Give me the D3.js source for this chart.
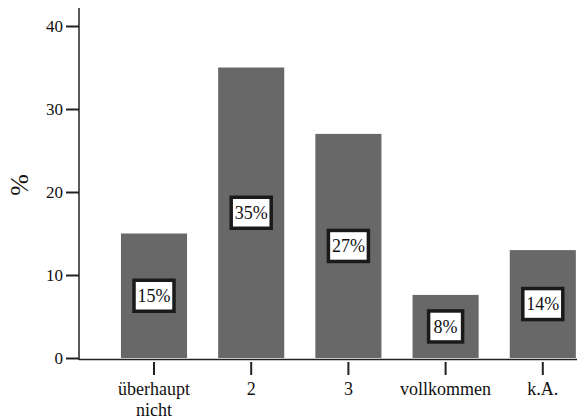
<!DOCTYPE html>
<html><head><meta charset="utf-8">
<script src="https://cdn.jsdelivr.net/npm/d3@7"></script>
</head><body style="margin:0;background:#fff">
<svg id="chart" width="577" height="420"></svg>
<script>
const categories = [["überhaupt","nicht"],["2"],["3"],["vollkommen"],["k.A."]];
const values = [15, 35, 27, 7.6, 13];
const valueLabels = ["15%","35%","27%","8%","14%"];
const yTicks = [0,10,20,30,40];

const svg = d3.select("#chart");
const y = d3.scaleLinear().domain([0,40]).range([358,26]);
const x = d3.scaleBand().domain(d3.range(categories.length)).range([105.4,591.4]).paddingInner(0.32).paddingOuter(0.16);

function serif(sel, size){
  sel.style("font-family",'"Times New Roman"').style("font-size", size+"px").attr("fill","#111");
}

svg.append("line").attr("x1",79).attr("x2",577).attr("y1",y(0)+1.5).attr("y2",y(0)+1.5)
  .attr("stroke","#222").attr("stroke-width",1.5);

svg.selectAll("rect.bar").data(values).join("rect").attr("class","bar")
  .attr("x",(d,i)=>x(i)).attr("width",x.bandwidth())
  .attr("y",d=>y(d)).attr("height",d=>y(0)-y(d))
  .attr("fill","#686868");

const g = svg.selectAll("g.lab").data(values).join("g").attr("class","lab")
  .attr("transform",(d,i)=>`translate(${x(i)+x.bandwidth()/2},${(y(d)+y(0))/2})`);
g.append("rect").attr("x",(d,i)=>valueLabels[i].length>2?-20:-17).attr("y",-15.5)
  .attr("width",(d,i)=>valueLabels[i].length>2?40:34).attr("height",31)
  .attr("fill","#fff").attr("stroke","#1a1a1a").attr("stroke-width",3.5);
g.append("text").text((d,i)=>valueLabels[i]).attr("text-anchor","middle").attr("dy","0.34em")
  .call(serif,18);

const yAxis = d3.axisLeft(y).tickValues(yTicks).tickSize(13).tickPadding(3);
const ya = svg.append("g").attr("transform","translate(79,0)").call(yAxis);
ya.select(".domain").remove();
ya.selectAll(".tick line").attr("stroke","#222").attr("stroke-width",2);
ya.selectAll(".tick text").call(serif,17);
svg.append("line").attr("x1",79).attr("x2",79).attr("y1",8).attr("y2",y(0)+2)
  .attr("stroke","#222").attr("stroke-width",1.5);

const xa = svg.append("g");
categories.forEach((c,i)=>{
  const cx = x(i)+x.bandwidth()/2;
  xa.append("line").attr("x1",cx).attr("x2",cx).attr("y1",362).attr("y2",375)
    .attr("stroke","#222").attr("stroke-width",2);
  c.forEach((t,j)=>{
    xa.append("text").text(t).attr("x",cx).attr("y",395+j*21).attr("text-anchor","middle")
      .call(serif,18);
  });
});

svg.append("text").text("%").attr("transform","translate(28,185) rotate(-90)")
  .attr("text-anchor","middle").call(serif,26);
</script>
</body></html>
